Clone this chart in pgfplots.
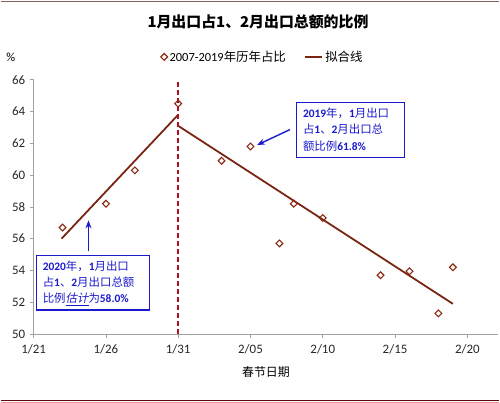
\documentclass[border=0pt]{standalone}
\usepackage{fontspec}
\setmainfont{Carlito}
\newfontfamily\cjk{Noto Sans CJK SC}
\newfontfamily\cjkit{Noto Sans CJK SC}[FakeSlant=0.2]
\newfontfamily\lat{Carlito}
\usepackage{pgfplots}
\pgfplotsset{compat=1.18}
\usetikzlibrary{arrows.meta}
\definecolor{mk}{HTML}{8B2A14}
\definecolor{fit}{HTML}{7A2512}
\definecolor{vl}{HTML}{B01020}
\definecolor{ann}{HTML}{1A1ACC}
\definecolor{axg}{HTML}{A0A0A0}
\begin{document}
\begin{tikzpicture}[x=1bp,y=1bp]
\path (0,0) rectangle (500,-404);
\draw[color={rgb,255:red,140;green,95;blue,95}, line width=1.5bp] (0,-1.5) -- (500,-1.5);
\draw[color={rgb,255:red,90;green,10;blue,10}, line width=1.2bp] (0,-402) -- (500,-402);
\draw[color={rgb,255:red,240;green,150;blue,160}, line width=1bp] (0,-403.5) -- (500,-403.5);
\begin{axis}[at={(33bp,-335bp)}, anchor=south west, scale only axis,
  width=466bp, height=255bp,
  xmin=0, xmax=32.14, ymin=50, ymax=66,
  axis lines=left, axis line style={-, draw=axg, line width=0.8bp},
  xtick={0,5,...,30}, xticklabels={1/21,1/26,1/31,2/05,2/10,2/15,2/20},
  ytick={50,52,...,66},
  tick align=outside, tick style={draw=axg, line width=0.7bp},
  major tick length=4bp,
  ticklabel style={font=\fontsize{13}{15}\selectfont, color=black!85},
  xticklabel style={yshift=-3bp},
  yticklabel style={xshift=-1bp},
  /pgf/number format/assume math mode=true,
  clip=false,
  legend style={at={(0.493,1.09)}, anchor=center, draw=none, fill=none,
    font=\fontsize{12.5}{14}\selectfont, legend columns=2,
    /tikz/every even column/.append style={column sep=16bp}},
  legend cell align=left,
]
\addplot[only marks, mark=square, mark size=2.4bp,
  mark options={rotate=45, draw=mk, line width=1.1bp, fill=none}]
  coordinates {(2,56.7)(5,58.2)(7,60.3)(10,64.5)(13,60.9)(15,61.8)(17,55.7)(18,58.2)(20,57.3)(24,53.7)(26,53.95)(28,51.3)(29,54.2)};
\addlegendentry{\lat 2007-2019\cjk 年历年占比}
\addplot[fit, line width=1.8bp, legend image code/.code={\draw[fit, line width=2.6bp] (0bp,0bp) -- (17bp,0bp);}]
  coordinates {(1.93,56.0)(10,63.8)};
\addlegendentry{\cjk 拟合线}
\addplot[fit, line width=1.8bp, forget plot] coordinates {(10,63.1)(29,51.9)};
\addplot[vl, line width=1.6bp, dash pattern=on 5bp off 3bp, forget plot] coordinates {(10,50)(10,66)};
\end{axis}
\node at (258,-22) {\cjk\bfseries\fontsize{15}{17}\selectfont 1月出口占1、2月出口总额的比例};
\node at (10,-57) {\fontsize{12.5}{14}\selectfont \%};
\node at (266,-373) {\cjk\fontsize{12}{14}\selectfont 春节日期};
% annotation 1
\draw[ann, line width=1.2bp] (36,-256) rectangle (149,-311);
\draw[ann, line width=1.4bp, -{Stealth[length=8bp,width=6bp]}] (88,-252) -- (88,-221);
\begin{scope}[every node/.style={anchor=base west, inner sep=0pt, text=ann, font=\cjk\fontsize{11.5}{13}\selectfont}]
\node at (42,-271.5) {\textbf{\lat 2020}年，\textbf{\lat 1}月出口};
\node at (42,-287.5) {占\textbf{\lat 1}、\textbf{\lat 2}月出口总额};
\node at (42,-303.5) {比例\underline{\cjkit 估计}为\textbf{\lat 58.0\%}};
\end{scope}
% annotation 2
\draw[ann, line width=1.2bp] (297,-103) rectangle (405,-158);
\draw[ann, line width=1.4bp, -{Stealth[length=8bp,width=6bp]}] (290,-130) -- (257,-145.5);
\begin{scope}[every node/.style={anchor=base west, inner sep=0pt, text=ann, font=\cjk\fontsize{11.5}{13}\selectfont}]
\node at (303,-117.5) {\textbf{\lat 2019}年，\textbf{\lat 1}月出口};
\node at (303,-134) {占\textbf{\lat 1}、\textbf{\lat 2}月出口总};
\node at (303,-150.5) {额比例\textbf{\lat 61.8\%}};
\end{scope}
\end{tikzpicture}
\end{document}
